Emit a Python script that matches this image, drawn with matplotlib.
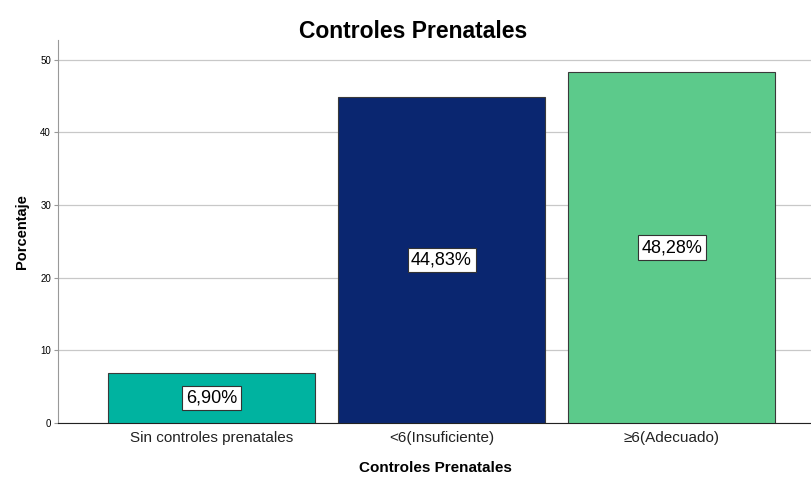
import matplotlib
matplotlib.use("Agg")
import matplotlib.pyplot as plt

# === DATA ===
categories = ["Sin controles prenatales", "<6(Insuficiente)", "≥6(Adecuado)"]
percentages = [6.90, 44.83, 48.28]
bar_colors = ["#00B3A0", "#0A2670", "#5CCA8B"]

plt.rcParams["font.family"] = ["Liberation Sans", "DejaVu Sans"]

fig = plt.figure(figsize=(8.12, 4.78), dpi=100)
ax = fig.add_axes([58 / 812, 55 / 478, 1 - 58 / 812, (423 - 40) / 478])

x = list(range(len(categories)))
ax.bar(x, percentages, width=0.9, color=bar_colors, edgecolor="#3a3a3a",
       linewidth=0.8, zorder=3)

# value labels in white boxes at mid-height
for xi, val in zip(x, percentages):
    ax.text(xi, val / 2, f"{val:.2f}%".replace(".", ","), ha="center", va="center",
            fontsize=13, color="black", zorder=4,
            bbox=dict(boxstyle="square,pad=0.2", facecolor="white",
                      edgecolor="#333333", linewidth=0.8))

ax.set_xlim(-0.667, 2.61)
ax.set_ylim(0, 52.7)
ax.set_yticks([0, 10, 20, 30, 40, 50])
ax.set_xticks(x)
ax.set_xticklabels(categories, fontsize=11, color="#222222")
ax.tick_params(axis="y", labelsize=7, length=3, color="#999999", pad=2)
ax.tick_params(axis="x", length=0, pad=6)

ax.yaxis.grid(True, color="#c8c8c8", linewidth=0.9, zorder=0)
ax.set_axisbelow(True)

for side in ["top", "right"]:
    ax.spines[side].set_visible(False)
ax.spines["left"].set_color("#999999")
ax.spines["bottom"].set_color("#222222")

ax.set_ylabel("Porcentaje", fontsize=10.5, fontweight="bold", labelpad=8)
ax.set_xlabel("Controles Prenatales", fontsize=11, fontweight="bold", labelpad=11)
fig.text(413 / 812, 1 - 31 / 478, "Controles Prenatales", ha="center", va="center",
         fontsize=16.5, fontweight="bold")

fig.savefig("out.png", dpi=100, facecolor="white")
